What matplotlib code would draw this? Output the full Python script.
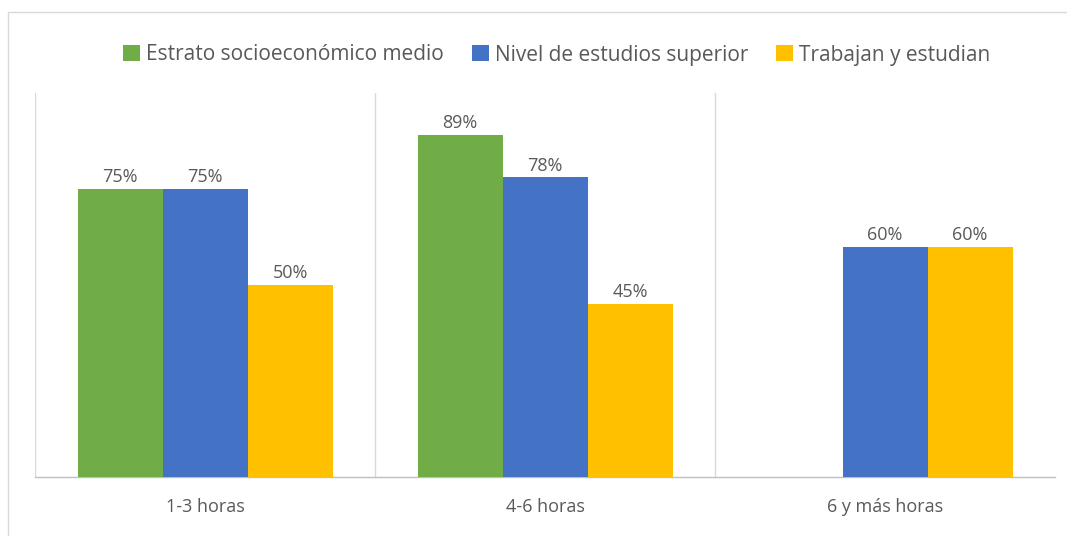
import numpy as np
import matplotlib.pyplot as plt
from matplotlib.patches import Rectangle

categories = ["1-3 horas", "4-6 horas", "6 y más horas"]
series_names = ["Estrato socioeconómico medio", "Nivel de estudios superior", "Trabajan y estudian"]
estrato_medio = [75, 89, np.nan]
estudios_superior = [75, 78, 60]
trabajan_estudian = [50, 45, 60]
colors = ["#70AD47", "#4472C4", "#FFC000"]

plt.rcParams['font.family'] = ['Open Sans', 'DejaVu Sans']

W, H = 1067, 536
fig = plt.figure(figsize=(W / 100, H / 100), dpi=100)
fig.patch.set_facecolor("white")

# chart frame
fig.add_artist(Rectangle((8 / W, -0.1), 1.2, 1 - 12 / H + 0.1, transform=fig.transFigure,
                         fill=False, edgecolor="#d9d9d9", linewidth=1))

left, right, bottom, top = 35, 1055, 477, 93
ax = fig.add_axes([left / W, 1 - bottom / H, (right - left) / W, (bottom - top) / H])

x = np.arange(len(categories))
width = 0.25
all_series = [estrato_medio, estudios_superior, trabajan_estudian]
for i, (vals, name, c) in enumerate(zip(all_series, series_names, colors)):
    pos = x + (i - 1) * width
    bars = ax.bar(pos, vals, width, color=c, label=name, zorder=3)
    for b, v in zip(bars, vals):
        if np.isnan(v):
            continue
        ax.annotate(f"{v:.0f}%", (b.get_x() + b.get_width() / 2, v), xytext=(0, 2),
                    textcoords="offset points", ha="center", va="bottom",
                    fontsize=13, color="#595959")

ax.set_xlim(-0.5, len(categories) - 0.5)
ax.set_ylim(0, 100)
ax.set_yticks([])
ax.set_xticks(x)
ax.set_xticklabels(categories, fontsize=13, color="#595959")
ax.tick_params(axis="x", length=0, pad=15)

# category separators
for b in np.arange(-0.5, len(categories), 1.0)[:-1]:
    ax.axvline(b, color="#d9d9d9", linewidth=1, zorder=1)

for s in ["top", "right", "left"]:
    ax.spines[s].set_visible(False)
ax.spines["bottom"].set_color("#bfbfbf")
ax.spines["bottom"].set_linewidth(1)

fig.legend(loc="center", bbox_to_anchor=(0.522, 1 - 55 / H), ncol=3, frameon=False,
           fontsize=15, labelcolor="#595959", handlelength=0.8, handleheight=0.8,
           handletextpad=0.3, columnspacing=1.35)

fig.savefig("out.png", dpi=100)
